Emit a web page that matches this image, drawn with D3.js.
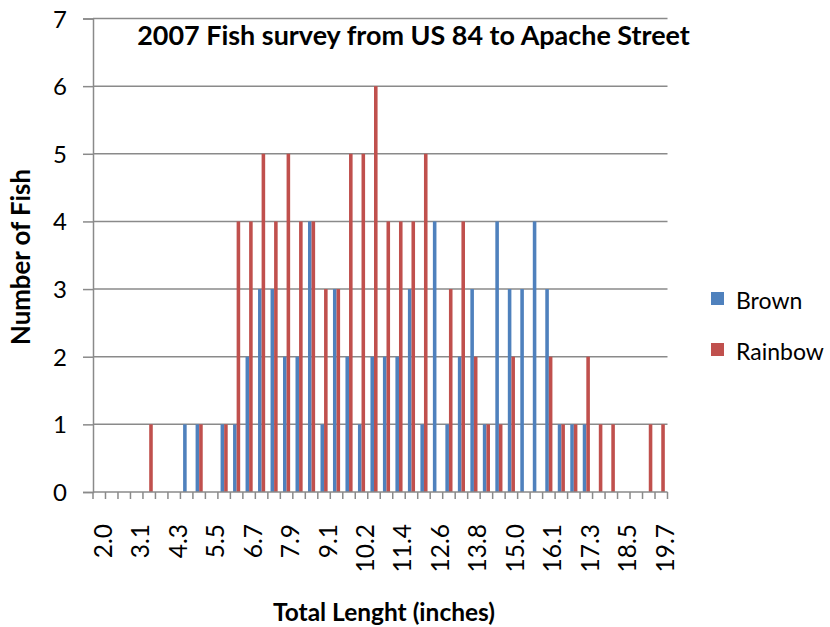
<!DOCTYPE html>
<html>
<head>
<meta charset="utf-8">
<script src="https://cdn.jsdelivr.net/npm/d3@7"></script>
<style>
  html, body { margin: 0; padding: 0; background: #fff; }
  svg { display: block; }
  text { font-family: Lato, "Open Sans", sans-serif; fill: #000; }
</style>
</head>
<body>
<svg id="chart" width="830" height="627"></svg>
<script>
// ---- data ----
const categories = ["2.0","2.4","2.8","3.1","3.5","3.9","4.3","4.7","5.1","5.5","5.9","6.3","6.7","7.1","7.5","7.9","8.3","8.7","9.1","9.4","9.8","10.2","10.6","11.0","11.4","11.8","12.2","12.6","13.0","13.4","13.8","14.2","14.6","15.0","15.4","15.7","16.1","16.5","16.9","17.3","17.7","18.1","18.5","18.9","19.3","19.7"];
const brown   = [0,0,0,0,0,0,0,1,1,0,1,1,2,3,3,2,2,4,1,3,2,1,2,2,2,3,1,4,1,2,3,1,4,3,3,4,3,1,1,1,0,0,0,0,0,0];
const rainbow = [0,0,0,0,1,0,0,0,1,0,1,4,4,5,4,5,4,4,3,3,5,5,6,4,4,4,5,0,3,4,2,1,1,2,0,0,2,1,1,2,1,1,0,0,1,1];
const seriesNames = ["Brown", "Rainbow"];
const seriesColors = ["#4F81BD", "#C0504D"];
const yTicks = [0,1,2,3,4,5,6,7];
const tickLabelEvery = 3;
const titleText = "2007 Fish survey from US 84 to Apache Street";
const xTitleText = "Total Lenght (inches)";
const yTitleText = "Number of Fish";

// ---- layout ----
const plot = { left: 93, right: 667.5, top: 18.5, bottom: 492 };
const gridColor = "#8a8a8a";

const svg = d3.select("#chart");

const x = d3.scaleBand().domain(categories).range([plot.left, plot.right]).paddingInner(0).paddingOuter(0);
const xs = d3.scaleBand().domain(seriesNames).range([0, x.bandwidth()]).paddingInner(0).paddingOuter(0.75);
const y = d3.scaleLinear().domain([0, 7]).range([plot.bottom, plot.top]);

// gridlines
svg.append("g").selectAll("line").data(yTicks.filter(d => d > 0)).join("line")
  .attr("x1", plot.left).attr("x2", plot.right)
  .attr("y1", d => y(d)).attr("y2", d => y(d))
  .attr("stroke", gridColor).attr("stroke-width", 1.5);

// bars
const rows = categories.map((c, i) => ({ cat: c, vals: [brown[i], rainbow[i]] }));
const groups = svg.append("g").selectAll("g").data(rows).join("g")
  .attr("transform", d => `translate(${x(d.cat)},0)`);
groups.selectAll("rect").data(d => d.vals.map((v, k) => ({ name: seriesNames[k], v, k })).filter(e => e.v > 0))
  .join("rect")
  .attr("x", e => xs(e.name))
  .attr("width", xs.bandwidth())
  .attr("y", e => y(e.v))
  .attr("height", e => y(0) - y(e.v))
  .attr("fill", e => seriesColors[e.k]);

// y axis
const yAxis = svg.append("g").attr("transform", `translate(${plot.left},0)`)
  .call(d3.axisLeft(y).tickValues(yTicks).tickSize(10).tickPadding(0).tickFormat(d3.format("d")));
yAxis.select(".domain").attr("stroke", gridColor).attr("stroke-width", 1.5);
yAxis.selectAll(".tick line").attr("stroke", gridColor).attr("stroke-width", 1.5);
yAxis.selectAll(".tick text")
  .attr("x", -26).attr("dy", null).attr("y", 8.5)
  .attr("text-anchor", "end")
  .style("font-size", "24px").style("font-family", "Lato, sans-serif").attr("fill", "#000");

// x axis: ticks at category boundaries
const bounds = categories.map(c => x(c)).concat([plot.right]);
const xAxisG = svg.append("g");
xAxisG.append("line").attr("x1", plot.left).attr("x2", plot.right)
  .attr("y1", plot.bottom).attr("y2", plot.bottom)
  .attr("stroke", gridColor).attr("stroke-width", 1.5);
xAxisG.selectAll("line.tk").data(bounds).join("line").attr("class", "tk")
  .attr("x1", d => d).attr("x2", d => d)
  .attr("y1", plot.bottom).attr("y2", plot.bottom + 7)
  .attr("stroke", gridColor).attr("stroke-width", 1.5);
xAxisG.selectAll("text").data(categories.filter((c, i) => i % tickLabelEvery === 0)).join("text")
  .attr("transform", d => `translate(${x(d) + x.bandwidth() / 2 + 12.5},524) rotate(-90)`)
  .attr("text-anchor", "end")
  .style("font-size", "24.5px")
  .text(d => d);

// title
function fit(sel, target) {
  const w = sel.node().getComputedTextLength();
  const fs = parseFloat(sel.style("font-size"));
  sel.style("font-size", (fs * target / w) + "px");
}
const title = svg.append("text").attr("x", 413.5).attr("y", 45).attr("text-anchor", "middle")
  .style("font-size", "27px").style("font-weight", "bold").text(titleText);
fit(title, 553);

const xTitle = svg.append("text").attr("x", 384).attr("y", 621).attr("text-anchor", "middle")
  .style("font-size", "22px").style("font-weight", "bold").text(xTitleText);
fit(xTitle, 222);

const yTitle = svg.append("text").attr("transform", "translate(29.5,257) rotate(-90)").attr("text-anchor", "middle")
  .style("font-size", "24px").style("font-weight", "bold").text(yTitleText);
fit(yTitle, 176);

// legend
const legend = svg.append("g");
const legendY = [298.5, 349.5];
seriesNames.forEach((n, k) => {
  legend.append("rect").attr("x", 711).attr("y", legendY[k] - 6.5).attr("width", 13).attr("height", 13)
    .attr("fill", seriesColors[k]);
  legend.append("text").attr("x", 736).attr("y", legendY[k] + 10).style("font-size", "23px").text(n);
});
</script>
</body>
</html>
